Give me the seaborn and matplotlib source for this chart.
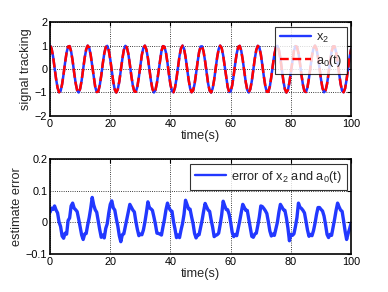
import matplotlib
matplotlib.use("Agg")
import matplotlib.pyplot as plt
import seaborn as sns
import numpy as np

# a0(t) reference and tracked x2, every 0.5 s (0 .. 100 s)
a0_vals = [
    1.00, 0.88, 0.54, 0.07, -0.42, -0.80, -0.99, -0.94, -0.65, -0.21, 0.28, 0.71, 0.96,
    0.98, 0.75, 0.35, -0.15, -0.60, -0.91, -1.00, -0.84, -0.48, 0.00, 0.48, 0.84, 1.00,
    0.91, 0.60, 0.14, -0.35, -0.76, -0.98, -0.96, -0.70, -0.28, 0.22, 0.66, 0.94,
    0.99, 0.80, 0.41, -0.08, -0.55, -0.88, -1.00, -0.87, -0.53, -0.06, 0.42, 0.81, 0.99,
    0.93, 0.65, 0.20, -0.29, -0.71, -0.96, -0.97, -0.75, -0.34, 0.15, 0.61, 0.91,
    1.00, 0.83, 0.47, -0.01, -0.49, -0.85, -1.00, -0.90, -0.59, -0.13, 0.36, 0.77, 0.98,
    0.95, 0.70, 0.27, -0.23, -0.67, -0.94, -0.99, -0.79, -0.40, 0.09, 0.56, 0.89,
    1.00, 0.87, 0.52, 0.05, -0.43, -0.81, -0.99, -0.93, -0.64, -0.19, 0.30, 0.72, 0.96,
    0.97, 0.74, 0.33, -0.16, -0.62, -0.92, -1.00, -0.83, -0.46, 0.02, 0.50, 0.85, 1.00,
    0.90, 0.58, 0.12, -0.37, -0.77, -0.98, -0.95, -0.69, -0.26, 0.24, 0.67, 0.95,
    0.99, 0.78, 0.39, -0.10, -0.56, -0.89, -1.00, -0.86, -0.52, -0.04, 0.44, 0.82, 0.99,
    0.93, 0.63, 0.18, -0.31, -0.73, -0.97, -0.97, -0.74, -0.32, 0.17, 0.62, 0.92,
    0.99, 0.82, 0.45, -0.03, -0.51, -0.86, -1.00, -0.90, -0.57, -0.11, 0.38, 0.78, 0.98,
    0.95, 0.68, 0.25, -0.25, -0.68, -0.95, -0.98, -0.78, -0.38, 0.11, 0.57, 0.89,
    1.00, 0.86, 0.51, 0.04, -0.45, -0.82, -0.99, -0.92, -0.63, -0.18, 0.32, 0.73, 0.97,
    0.97, 0.73, 0.31, -0.18, -0.63, -0.93, -0.99, -0.82, -0.44, 0.04, 0.51, 0.86,
]
x2_vals = list(a0_vals)  # x2 lies on top of a0 at this scale

# error of x2 and a0(t), every 0.5 s
err_vals = [
    0.032, 0.045, 0.041, 0.052, 0.039, 0.030, 0.001, -0.013, -0.043, -0.050,
    -0.034, -0.037, 0.006, 0.014, 0.052, 0.061, 0.045, 0.040, 0.034, 0.011,
    -0.015, -0.040, -0.054, -0.037, -0.035, -0.008, 0.015, 0.044, 0.079, 0.055,
    0.040, 0.032, 0.004, -0.023, -0.047, -0.040, -0.049, -0.019, -0.004, 0.030,
    0.057, 0.068, 0.046, 0.039, 0.012, -0.011, -0.042, -0.061, -0.039, -0.036,
    -0.013, 0.010, 0.033, 0.057, 0.048, 0.039, 0.033, 0.003, -0.022, -0.042,
    -0.037, -0.039, -0.024, 0.001, 0.031, 0.065, 0.046, 0.043, 0.038, 0.017,
    -0.006, -0.034, -0.035, -0.037, -0.040, -0.014, 0.010, 0.040, 0.061, 0.046,
    0.038, 0.035, 0.003, -0.021, -0.048, -0.040, -0.048, -0.024, -0.004, 0.026,
    0.070, 0.057, 0.043, 0.042, 0.018, -0.004, -0.035, -0.049, -0.040, -0.039,
    -0.016, 0.007, 0.035, 0.060, 0.049, 0.039, 0.035, 0.008, -0.015, -0.045,
    -0.041, -0.039, -0.034, -0.007, 0.024, 0.067, 0.053, 0.041, 0.040, 0.025,
    -0.001, -0.032, -0.045, -0.038, -0.042, -0.019, 0.005, 0.031, 0.057, 0.048,
    0.038, 0.038, 0.011, -0.014, -0.044, -0.047, -0.037, -0.034, -0.010, 0.017,
    0.052, 0.050, 0.044, 0.037, 0.028, 0.002, -0.027, -0.043, -0.037, -0.041,
    -0.021, 0.000, 0.032, 0.057, 0.049, 0.040, 0.038, 0.014, -0.017, -0.058,
    -0.038, -0.041, -0.036, -0.013, 0.015, 0.061, 0.048, 0.044, 0.038, 0.030,
    0.004, -0.024, -0.044, -0.038, -0.042, -0.026, -0.003, 0.025, 0.047, 0.047,
    0.041, 0.036, 0.020, -0.007, -0.038, -0.048, -0.038, -0.041, -0.016, 0.010,
    0.038, 0.061, 0.049, 0.039, 0.035, 0.005, -0.028, -0.054, -0.035, -0.020,
    -0.002,
]
t_vals = np.linspace(0, 100, len(a0_vals))

x_ticks = [0, 20, 40, 60, 80, 100]
top_yticks = [-2, -1, 0, 1, 2]
bot_yticks = [-0.1, 0, 0.1, 0.2]
bot_ylabels = ["\u22120.1", "0", "0.1", "0.2"]

sns.set_style("white")
plt.rcParams["font.family"] = ["Liberation Sans", "DejaVu Sans"]
plt.rcParams["mathtext.default"] = "regular"

fig = plt.figure(figsize=(3.88, 2.92), dpi=100)
ax1 = fig.add_axes([0.129, 0.603, 0.776, 0.321])
ax2 = fig.add_axes([0.129, 0.130, 0.776, 0.325])

sns.lineplot(x=t_vals, y=x2_vals, ax=ax1, color="#2238ff", lw=1.8, label="x$_2$")
sns.lineplot(x=t_vals, y=a0_vals, ax=ax1, color="red", lw=1.8, linestyle="--",
             label="a$_0$(t)")
ax1.set_xlim(0, 100)
ax1.set_ylim(-2, 2)
ax1.set_yticks(top_yticks)
ax1.set_ylabel("signal tracking", fontsize=9.2, labelpad=2)

sns.lineplot(x=t_vals, y=err_vals, ax=ax2, color="#2238ff", lw=2.4,
             label="error of x$_2$ and a$_0$(t)")
ax2.set_xlim(0, 100)
ax2.set_ylim(-0.1, 0.2)
ax2.set_yticks(bot_yticks)
ax2.set_yticklabels(bot_ylabels)
ax2.set_ylabel("estimate error", fontsize=9.2, labelpad=2)

for ax in (ax1, ax2):
    ax.set_xticks(x_ticks)
    ax.set_xlabel("time(s)", fontsize=9.2, labelpad=1)
    ax.tick_params(direction="in", top=True, right=True, length=3, width=0.8,
                   labelsize=7.8, pad=2, colors="black")
    ax.grid(True, color="black", linestyle=":", linewidth=0.6)
    for sp in ax.spines.values():
        sp.set_visible(True)
        sp.set_color("black")
        sp.set_linewidth(1.2)
    leg = ax.legend(loc="upper right", fontsize=9.2, frameon=True, fancybox=False,
                    edgecolor="black", borderaxespad=0.35, handlelength=2.4,
                    borderpad=0.4, handletextpad=0.4, labelspacing=0.6)
    leg.get_frame().set_linewidth(0.8)
    for h in leg.get_lines():
        h.set_linewidth(1.7)

fig.savefig("out.png", dpi=100, facecolor="white")
